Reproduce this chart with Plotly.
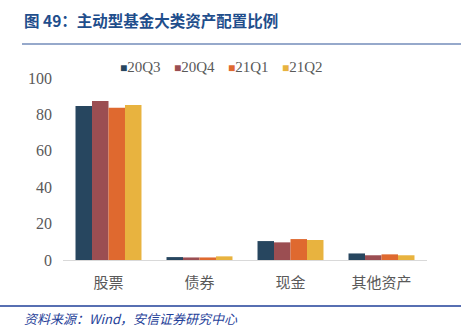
import plotly.graph_objects as go

categories = ["股票", "债券", "现金", "其他资产"]
series_names = ["20Q3", "20Q4", "21Q1", "21Q2"]
v_20q3 = [84.6, 1.6, 10.4, 3.6]
v_20q4 = [87.4, 1.4, 9.7, 2.6]
v_21q1 = [83.7, 1.4, 11.5, 3.1]
v_21q2 = [85.2, 2.0, 11.0, 2.6]
colors = ["#27465F", "#9B4E52", "#DF692F", "#E8B33F"]

W, H = 461, 332
L, R, T, B = 63, 34, 78, 72
pw, ph = W - L - R, H - T - B

def px(x):
    return (x - L) / pw

def py(y):
    return (H - B - y) / ph

fig = go.Figure()
for name, vals, c in zip(series_names, [v_20q3, v_20q4, v_21q1, v_21q2], colors):
    fig.add_trace(go.Bar(name=name, x=categories, y=vals,
                         marker=dict(color=c, line=dict(width=0)), showlegend=False))

# compact legend drawn as text annotations (symbol + label)
legend_x = [118, 172, 226, 280]
legend_ann = []
for name, c, lx in zip(series_names, colors, legend_x):
    legend_ann.append(dict(
        text=f"<span style='color:{c};font-size:12px'>■</span>{name}",
        xref="paper", yref="paper", x=px(lx), y=py(67), xanchor="left", yanchor="middle",
        showarrow=False, font=dict(family="Liberation Serif", size=15, color="#595959")))

fig.update_layout(
    width=W, height=H,
    margin=dict(l=L, r=R, t=T, b=B),
    paper_bgcolor="white", plot_bgcolor="white",
    barmode="group", bargap=0.275, bargroupgap=0,
    xaxis=dict(showgrid=False, showline=True, linecolor="#D9D9D9", linewidth=1,
               ticks="", tickfont=dict(family="Noto Sans CJK SC", size=15, color="#595959"),
               ticklabelstandoff=9),
    yaxis=dict(range=[0, 100], dtick=20, showgrid=False, showline=False, zeroline=False,
               ticks="", tickfont=dict(family="Liberation Serif", size=16, color="#595959"),
               ticklabelstandoff=10),
    font=dict(family="Noto Sans CJK SC"),
    shapes=[
        dict(type="line", xref="paper", yref="paper", x0=px(22), x1=px(461), y0=py(44), y1=py(44),
             line=dict(color="#2F5597", width=1.2)),
        dict(type="line", xref="paper", yref="paper", x0=px(0), x1=px(461), y0=py(306), y1=py(306),
             line=dict(color="#1F3F99", width=1.5)),
    ],
    annotations=[
        dict(text="<b>图 49：主动型基金大类资产配置比例</b>", xref="paper", yref="paper",
             x=px(22), y=py(20), xanchor="left", yanchor="middle", showarrow=False,
             font=dict(family="Noto Sans CJK SC", size=15.5, color="#1F4E8C")),
        dict(text="<i>资料来源：Wind，安信证券研究中心</i>", xref="paper", yref="paper",
             x=px(22), y=py(318), xanchor="left", yanchor="middle", showarrow=False,
             font=dict(family="Noto Sans CJK SC", size=13, color="#1F3F99")),
    ] + legend_ann,
)

fig.write_html("out.html")
